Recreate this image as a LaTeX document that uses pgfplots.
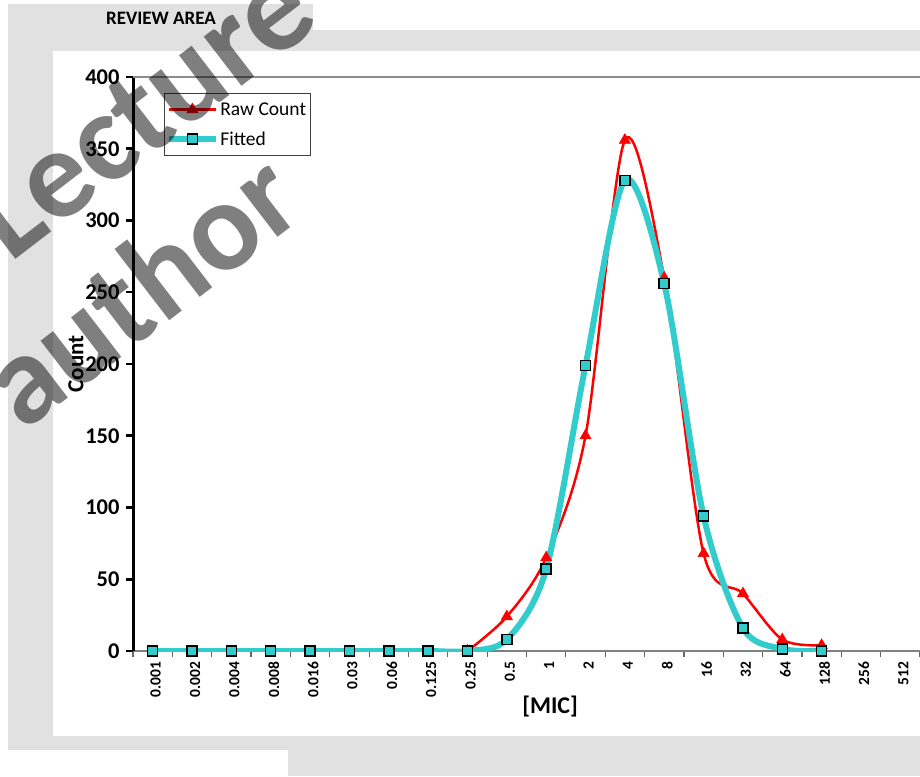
\documentclass[border=0pt]{standalone}
\usepackage{pgfplots}
\pgfplotsset{compat=1.18}
\usepackage{fontspec}
\setmainfont{Carlito}
\definecolor{bg}{HTML}{E1E1E1}
\definecolor{fitc}{HTML}{33CCCC}
\begin{document}
\begin{tikzpicture}[x=1pt,y=1pt]
\useasboundingbox (0,0) rectangle (920,776);
\fill[white] (0,0) rectangle (920,776);
\fill[bg] (8,772) rectangle (313,745);
\fill[bg] (8,746) rectangle (920,26);
\fill[bg] (288,27) rectangle (920,0);
\fill[white] (53,725) rectangle (920,40);
\node[font=\fontsize{19}{22}\selectfont\bfseries] at (161,758) {REVIEW AREA};
\begin{axis}[
  at={(133pt,125pt)}, anchor=south west,
  width=787pt, height=574pt, scale only axis,
  xmin=-0.5, xmax=19.5, ymin=0, ymax=400,
  axis x line*=bottom, axis y line*=left,
  x axis line style={draw=gray, line width=1.5pt, -},
  y axis line style={draw=black, line width=3pt, -},
  tick align=outside,
  ytick={0,50,...,400},
  ytick style={draw=black, line width=2.5pt},
  major tick length=7pt,
  xtick={0,...,19},
  xticklabels={0.001,0.002,0.004,0.008,0.016,0.03,0.06,0.125,0.25,0.5,1,2,4,8,16,32,64,128,256,512},
  major x tick style={draw=none},
  minor xtick={-0.5,0.5,...,19.5},
  minor x tick style={draw=gray!80!black, line width=1.2pt},
  minor tick length=6pt,
  extra y ticks={400}, extra y tick labels={},
  extra y tick style={grid=major},
  major grid style={draw=gray!90, line width=2.5pt},
  /pgf/number format/assume math mode=true,
  yticklabel style={font=\fontsize{22.5}{26}\selectfont\bfseries, xshift=-3pt},
  xticklabel style={rotate=90, anchor=east, font=\fontsize{15.5}{18}\selectfont\bfseries, yshift=-3pt},
  xlabel={[MIC]},
  xlabel style={at={(rel axis cs:0.53,0)}, anchor=center, yshift=-56pt, font=\fontsize{24}{28}\selectfont\bfseries},
  ylabel={Count},
  ylabel style={at={(rel axis cs:0,0.5)}, anchor=center, yshift=57pt, font=\fontsize{23}{26}\selectfont\bfseries},
  legend style={at={(rel axis cs:0.0394,0.972)}, anchor=north west, draw=black!75, line width=0.8pt, font=\fontsize{19.5}{22}\selectfont, inner xsep=2pt, inner ysep=7pt, row sep=11pt},
  legend cell align=left,
  legend image code/.code={\draw[mark repeat=2,mark phase=2,#1] plot coordinates {(0pt,0pt) (23pt,0pt) (46pt,0pt)};},
]
\addplot[red, line width=2.5pt, smooth, tension=0.5, mark=triangle*, mark size=6.5pt, mark options={solid, fill=red, draw=red, line width=0.5pt}] coordinates {
(8,0) (9,24) (10,65) (11,150) (12,356) (13,260) (14,68) (15,40) (16,8) (17,4)
};
\addlegendentry{Raw Count}
\addplot[fitc, line width=6pt, smooth, tension=0.5, mark=square*, mark size=5pt, mark options={solid, fill=fitc, draw=black, line width=1.5pt}] coordinates {
(0,0) (1,0) (2,0) (3,0) (4,0) (5,0) (6,0) (7,0) (8,0) (9,8) (10,57) (11,199) (12,328) (13,256) (14,94) (15,16) (16,1.5) (17,0)
};
\addlegendentry{Fitted}
\end{axis}
\node[rotate=37.5, opacity=0.5, text=black, inner sep=0pt, anchor=base west, font=\fontsize{128}{140}\selectfont\bfseries] at (10,512) {Lecture -};
\node[rotate=37.5, opacity=0.5, text=black, inner sep=0pt, anchor=base west, font=\fontsize{128}{140}\selectfont\bfseries] at (23,343) {author};
\end{tikzpicture}
\end{document}
